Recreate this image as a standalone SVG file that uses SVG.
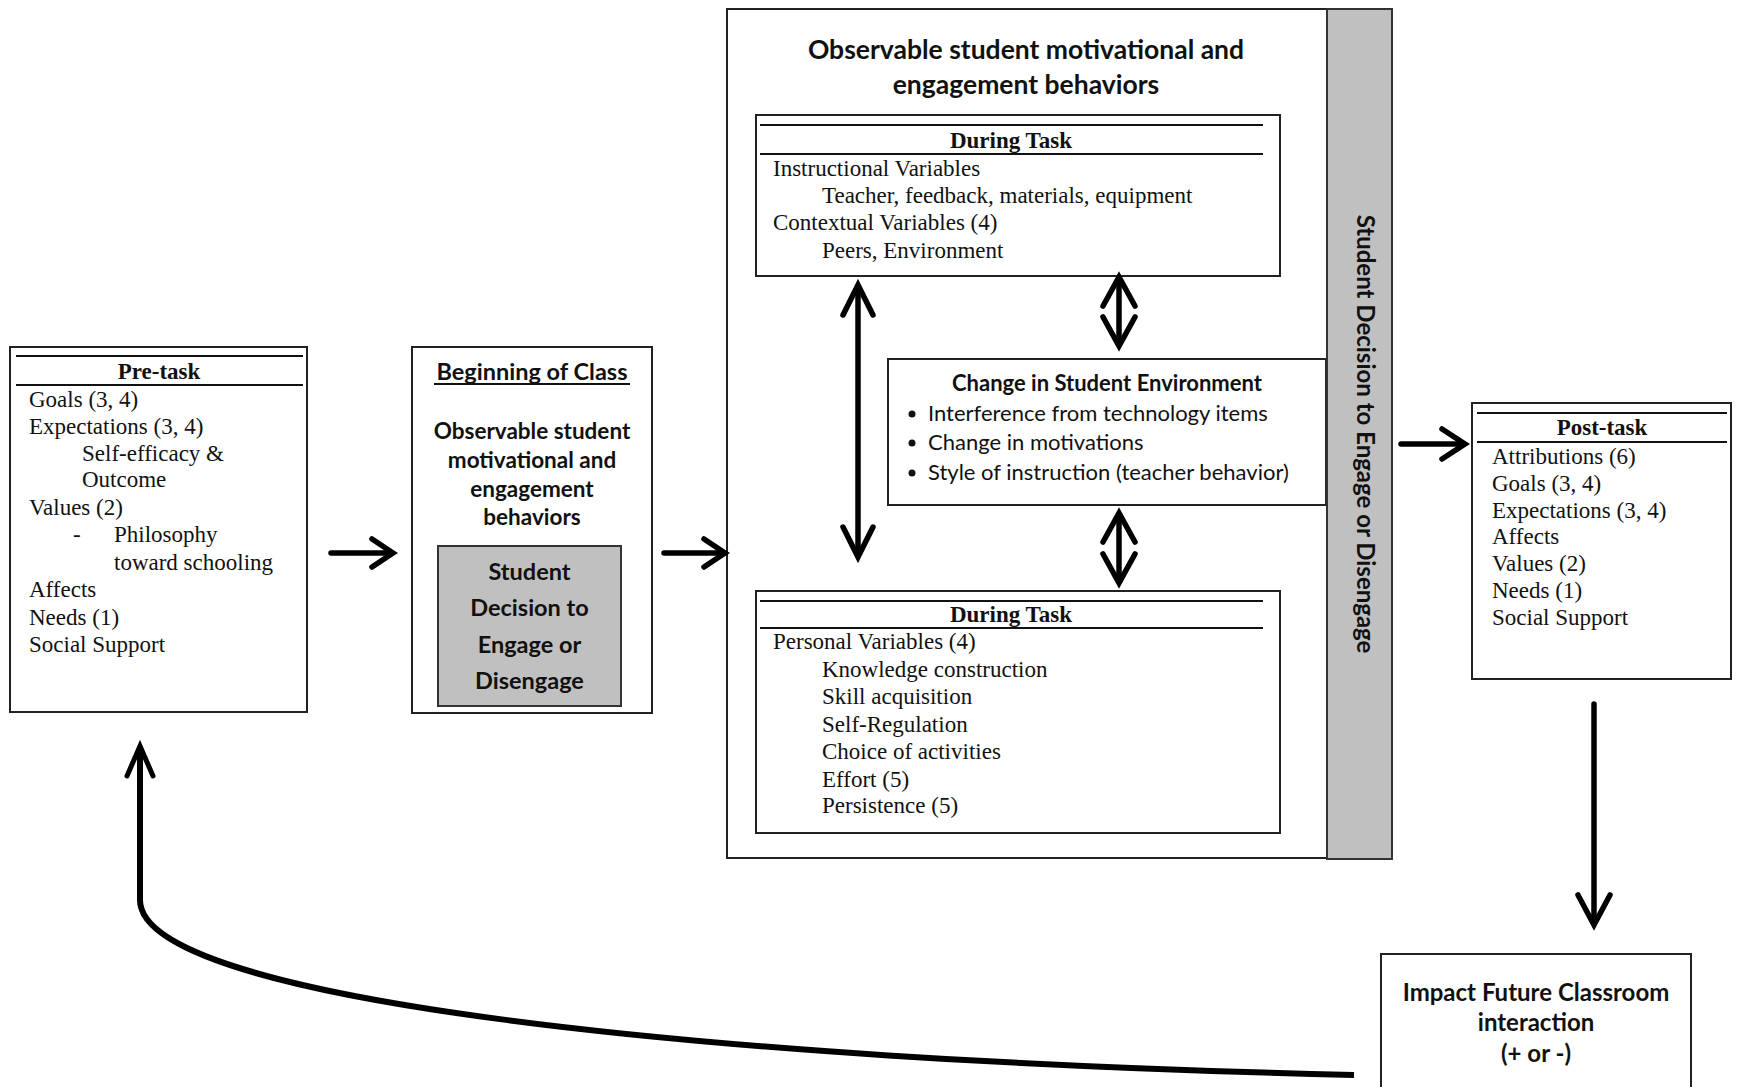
<svg xmlns="http://www.w3.org/2000/svg" width="1738" height="1087" viewBox="0 0 1738 1087">
<defs>
<style>
.box{fill:#fff;stroke:#222;stroke-width:2}
.gray{fill:#c0c0c0;stroke:#333;stroke-width:2}
.rule{stroke:#111;stroke-width:1.8}
.serif{font-family:"Liberation Serif","Times New Roman",serif;font-size:23px;fill:#111}
.serifb{font-family:"Liberation Serif","Times New Roman",serif;font-size:23px;font-weight:bold;fill:#111}
.sans{font-family:Lato,"Liberation Sans",sans-serif;font-size:22px;fill:#111}
.sansb{font-family:Lato,"Liberation Sans",sans-serif;font-size:22.5px;font-weight:bold;fill:#111}
.mid{text-anchor:middle}
.arr{fill:none;stroke:#000;stroke-width:5.5;stroke-linecap:round;stroke-linejoin:miter;stroke-miterlimit:10}
</style>
</defs>
<rect width="1738" height="1087" fill="#fff"/>

<g id="pre-task">
<rect class="box" x="10" y="347" width="297" height="365"/>
<line class="rule" x1="16" y1="356" x2="303" y2="356"/>
<line class="rule" x1="16" y1="385" x2="303" y2="385"/>
<text class="serifb mid" x="159" y="379">Pre-task</text>
<text class="serif" x="29" y="407">Goals (3, 4)</text>
<text class="serif" x="29" y="434">Expectations (3, 4)</text>
<text class="serif" x="82" y="461">Self-efficacy &amp;</text>
<text class="serif" x="82" y="487">Outcome</text>
<text class="serif" x="29" y="515">Values (2)</text>
<text class="serif" x="73" y="542">-</text>
<text class="serif" x="114" y="542">Philosophy</text>
<text class="serif" x="114" y="570">toward schooling</text>
<text class="serif" x="29" y="597">Affects</text>
<text class="serif" x="29" y="625">Needs (1)</text>
<text class="serif" x="29" y="652">Social Support</text>
</g>

<g id="beginning-of-class">
<rect class="box" x="412" y="347" width="240" height="366"/>
<text class="sansb mid" x="532" y="380" style="font-size:23.5px">Beginning of Class</text>
<line x1="434" y1="384" x2="630" y2="384" stroke="#111" stroke-width="1.8"/>
<text class="sansb mid" x="532" y="439">Observable student</text>
<text class="sansb mid" x="532" y="468">motivational and</text>
<text class="sansb mid" x="532" y="497">engagement</text>
<text class="sansb mid" x="532" y="525">behaviors</text>
<rect class="gray" x="438" y="546" width="183" height="160"/>
<text class="sansb mid" x="529.5" y="580" style="font-size:23.5px">Student</text>
<text class="sansb mid" x="529.5" y="616" style="font-size:23.5px">Decision to</text>
<text class="sansb mid" x="529.5" y="653" style="font-size:23.5px">Engage or</text>
<text class="sansb mid" x="529.5" y="689" style="font-size:23.5px">Disengage</text>
</g>

<g id="observable-behaviors">
<rect class="box" x="727" y="9" width="600" height="849"/>
<text class="sansb mid" x="1026" y="59" style="font-size:26.5px">Observable student motivational and</text>
<text class="sansb mid" x="1026" y="94" style="font-size:26.5px">engagement behaviors</text>
</g>

<g id="during-task-instructional">
<rect class="box" x="756" y="115" width="524" height="161"/>
<line class="rule" x1="760" y1="125" x2="1263" y2="125"/>
<line class="rule" x1="760" y1="154" x2="1263" y2="154"/>
<text class="serifb mid" x="1011" y="148">During Task</text>
<text class="serif" x="773" y="176">Instructional Variables</text>
<text class="serif" x="822" y="203">Teacher, feedback, materials, equipment</text>
<text class="serif" x="773" y="230">Contextual Variables (4)</text>
<text class="serif" x="822" y="258">Peers, Environment</text>
</g>

<g id="change-in-environment">
<rect class="box" x="888" y="359" width="438" height="146"/>
<text class="sansb mid" x="1107" y="391" style="font-size:22px">Change in Student Environment</text>
<circle cx="912" cy="414" r="3.5" fill="#111"/>
<circle cx="912" cy="443" r="3.5" fill="#111"/>
<circle cx="912" cy="473" r="3.5" fill="#111"/>
<text class="sans" x="928" y="421">Interference from technology items</text>
<text class="sans" x="928" y="450">Change in motivations</text>
<text class="sans" x="928" y="480">Style of instruction (teacher behavior)</text>
</g>

<g id="during-task-personal">
<rect class="box" x="756" y="591" width="524" height="242"/>
<line class="rule" x1="760" y1="601" x2="1263" y2="601"/>
<line class="rule" x1="760" y1="628" x2="1263" y2="628"/>
<text class="serifb mid" x="1011" y="622">During Task</text>
<text class="serif" x="773" y="649">Personal Variables (4)</text>
<text class="serif" x="822" y="677">Knowledge construction</text>
<text class="serif" x="822" y="704">Skill acquisition</text>
<text class="serif" x="822" y="732">Self-Regulation</text>
<text class="serif" x="822" y="759">Choice of activities</text>
<text class="serif" x="822" y="787">Effort (5)</text>
<text class="serif" x="822" y="813">Persistence (5)</text>
</g>

<g id="decision-bar">
<rect class="gray" x="1327" y="9" width="65" height="850"/>
<text class="sansb mid" transform="translate(1365,434) rotate(90)" x="0" y="8" style="font-size:24px">Student Decision to Engage or Disengage</text>
</g>

<g id="post-task">
<rect class="box" x="1472" y="403" width="259" height="276"/>
<line class="rule" x1="1477" y1="413" x2="1727" y2="413"/>
<line class="rule" x1="1477" y1="442" x2="1727" y2="442"/>
<text class="serifb mid" x="1602" y="435">Post-task</text>
<text class="serif" x="1492" y="464">Attributions (6)</text>
<text class="serif" x="1492" y="491">Goals (3, 4)</text>
<text class="serif" x="1492" y="518">Expectations (3, 4)</text>
<text class="serif" x="1492" y="544">Affects</text>
<text class="serif" x="1492" y="571">Values (2)</text>
<text class="serif" x="1492" y="598">Needs (1)</text>
<text class="serif" x="1492" y="625">Social Support</text>
</g>

<g id="impact">
<rect class="box" x="1381" y="954" width="310" height="150"/>
<text class="sansb mid" x="1536" y="1001" style="font-size:24px">Impact Future Classroom</text>
<text class="sansb mid" x="1536" y="1031" style="font-size:24px">interaction</text>
<text class="sansb mid" x="1536" y="1062" style="font-size:24px">(+ or -)</text>
</g>

<g id="connectors">
<line class="arr" x1="331" y1="553" x2="390" y2="553"/>
<polyline class="arr" points="372,539 393,553 372,567"/>
<line class="arr" x1="664" y1="553" x2="722" y2="553"/>
<polyline class="arr" points="704,539 725,553 704,567"/>
<line class="arr" x1="858" y1="289" x2="858" y2="553"/>
<polyline class="arr" points="843,315 858,285 873,315"/>
<polyline class="arr" points="843,527 858,557 873,527"/>
<line class="arr" x1="1119" y1="281" x2="1119" y2="342"/>
<polyline class="arr" points="1103,306 1119,277 1135,306"/>
<polyline class="arr" points="1103,317 1119,346 1135,317"/>
<line class="arr" x1="1119" y1="517" x2="1119" y2="579"/>
<polyline class="arr" points="1103,542 1119,513 1135,542"/>
<polyline class="arr" points="1103,554 1119,583 1135,554"/>
<line class="arr" x1="1401" y1="444" x2="1462" y2="444"/>
<polyline class="arr" points="1442,429 1465,444 1442,459"/>
<line class="arr" x1="1594" y1="704" x2="1594" y2="921"/>
<polyline class="arr" points="1578,895 1594,925 1610,895"/>
<path d="M1354,1075 C700,1060 140,1000 140,900 L140,749" fill="none" stroke="#000" stroke-width="6"/>
<polyline class="arr" points="127,776 140,746 153,776" style="stroke-width:5"/>
</g>
</svg>
